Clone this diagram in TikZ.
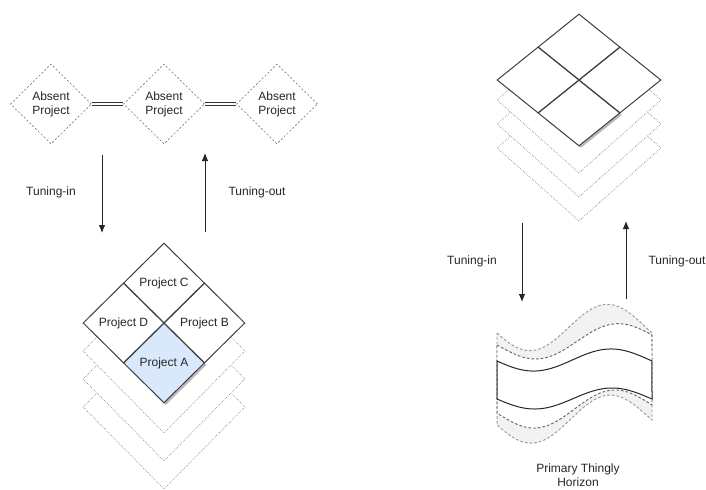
\documentclass[tikz,border=0pt]{standalone}
\usepackage{fontspec}
\setmainfont{Liberation Sans}
\usetikzlibrary{shapes.geometric, arrows.meta, shadows}

\definecolor{projblue}{HTML}{DAE8FC}
\definecolor{tapegray}{HTML}{F2F2F2}
\newcommand{\px}{0.75pt}

\begin{document}
\begin{tikzpicture}[x=\px, y=-\px,
    font=\fontsize{9}{10.5}\selectfont, text=black!85,
    % wavy tape edge: position, left/right height, wave terms
    declare function={wv(\s,\a,\b,\c,\d)=\a+(\b-\a)*\s+\c*sin(360*\s)+\d*(1-cos(360*\s));},
    absent/.style={diamond, draw=black!50, dash pattern=on 1.5pt off 1.5pt, line width=0.5pt,
      minimum width=81*\px, minimum height=80*\px, inner sep=0pt, align=center},
    part/.style={diamond, draw=black!75, fill=white, line width=0.75pt,
      minimum width=81*\px, minimum height=80*\px, inner sep=0pt},
    cell/.style={part, minimum width=82*\px, minimum height=66*\px},
    layer/.style={diamond, draw=black!50, fill=white, line width=0.5pt, densely dotted,
      minimum width=162*\px, minimum height=164*\px},
    rlayer/.style={layer, minimum width=164*\px, minimum height=146*\px},
    shade/.style={drop shadow={shadow xshift=1.5pt, shadow yshift=-1.5pt, fill=black!45, opacity=0.6}},
    link/.style={double, double distance=1.8pt, line width=0.6pt, draw=black!80},
    flow/.style={-{Latex[length=6pt,width=5pt]}, line width=0.75pt, draw=black!85},
    wave/.style={samples=50, smooth}]
  \useasboundingbox (0,0) rectangle (706,489);

  % absent projects
  \node[absent] (ap1) at (51,104) {Absent\\Project};
  \node[absent] (ap2) at (164,104) {Absent\\Project};
  \node[absent] (ap3) at (277,104) {Absent\\Project};
  \draw[link] (ap1.east) -- (ap2.west);
  \draw[link] (ap2.east) -- (ap3.west);

  % tuning arrows, left
  \coordinate (inA) at (102,155);
  \coordinate (inB) at (102,233);
  \coordinate (outA) at (205,232);
  \coordinate (outB) at (205,153);
  \draw[flow] (inA) -- (inB);
  \draw[flow] (outA) -- (outB);
  \node (tinL) at (51,192) {Tuning-in};
  \node (toutL) at (257,192) {Tuning-out};

  % project stack
  \foreach \k in {3,2,1}
    \node[layer] (lay\k) at (164,323+28*\k) {};
  \node[part, fill=projblue, shade] (pA) at (164,363) {Project A};
  \node[part] (pB) at (204.5,323) {Project B};
  \node[part] (pC) at (164,283) {Project C};
  \node[part] (pD) at (123.5,323) {Project D};

  % empty stack, right
  \foreach \k in {3,2,1}
    \node[rlayer] (rlay\k) at (579,76+24*\k) {};
  \node[cell, shade] (cellS) at (579,113) {};
  \node[cell] (cellE) at (620,80) {};
  \node[cell] (cellN) at (579,47) {};
  \node[cell] (cellW) at (538,80) {};

  % tuning arrows, right
  \coordinate (rinA) at (522,223);
  \coordinate (rinB) at (522,302);
  \coordinate (routA) at (626,299);
  \coordinate (routB) at (626,221);
  \draw[flow] (rinA) -- (rinB);
  \draw[flow] (routA) -- (routB);
  \node (tinR) at (472,261) {Tuning-in};
  \node (toutR) at (677,261) {Tuning-out};

  % horizon tapes
  \filldraw[fill=tapegray, draw=black!40, dash pattern=on 2pt off 1.5pt, line width=0.7pt]
    plot[wave, domain=0:1] ({497+155*\x},{wv(\x,333,333,22.5,-5.5)})
    -- plot[wave, domain=1:0] ({497+155*\x},{wv(\x,425,420,22.5,-3.5)}) -- cycle;
  \filldraw[fill=white, draw=black!60, dash pattern=on 2pt off 1.5pt, line width=0.7pt]
    plot[wave, domain=0:1] ({497+155*\x},{wv(\x,345,335,15,1.5)})
    -- plot[wave, domain=1:0] ({497+155*\x},{wv(\x,413,405,17,0)}) -- cycle;
  \filldraw[fill=white, draw=black!85, line width=0.75pt]
    plot[wave, domain=0:1] ({497+155*\x},{wv(\x,361,361,11,-1)})
    -- plot[wave, domain=1:0] ({497+155*\x},{wv(\x,399,399,10.5,-0.5)}) -- cycle;
  \node[align=center] (horizon) at (578,475) {Primary Thingly\\Horizon};
\end{tikzpicture}
\end{document}
